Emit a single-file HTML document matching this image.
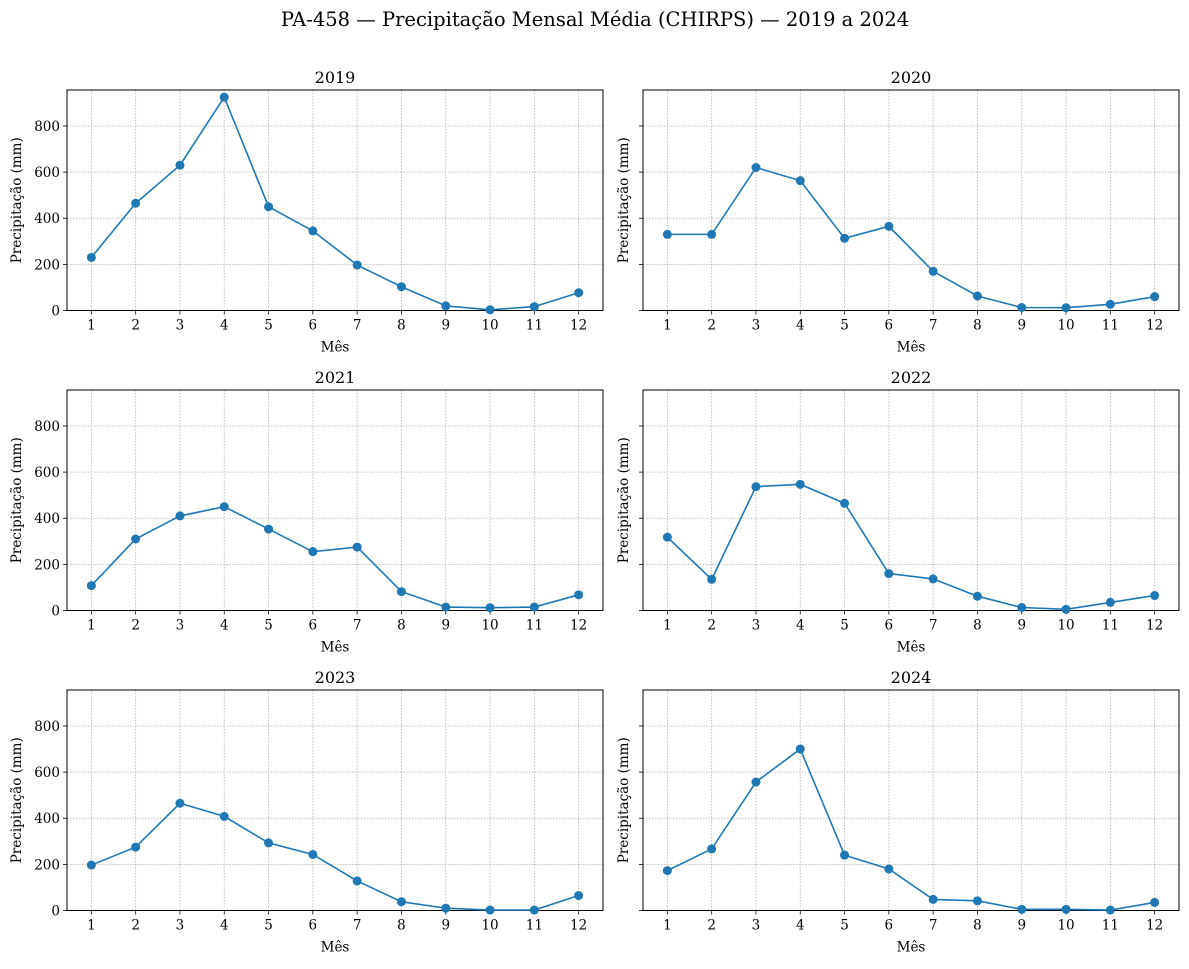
<!DOCTYPE html>
<html><head><meta charset="utf-8"><style>
body{margin:0;background:#fff;}
svg text{font-family:"DejaVu Serif","Liberation Serif",serif;fill:#000;}
</style></head><body>
<svg id="fig" width="1189" height="964" xmlns="http://www.w3.org/2000/svg">
<text x="595" y="26" text-anchor="middle" font-size="19.5">PA-458 — Precipitação Mensal Média (CHIRPS) — 2019 a 2024</text>
</svg>
<script>
const years = ["2019","2020","2021","2022","2023","2024"];
const months = [1,2,3,4,5,6,7,8,9,10,11,12];
const v2019 = [230,465,630,925,450,345,197,103,20,3,17,77];
const v2020 = [330,330,620,563,313,365,170,63,13,12,27,60];
const v2021 = [108,310,410,450,353,255,275,82,15,12,15,68];
const v2022 = [318,135,537,547,465,160,137,62,13,5,35,65];
const v2023 = [197,275,465,408,293,243,128,38,10,2,2,65];
const v2024 = [173,267,557,700,240,180,48,42,5,5,2,35];
const yTicks = [0,200,400,600,800];
const series = [v2019,v2020,v2021,v2022,v2023,v2024];
const NS="http://www.w3.org/2000/svg";
const svg=document.getElementById('fig');
function mk(tag,attrs,parent){const e=document.createElementNS(NS,tag);for(const k in attrs)e.setAttribute(k,attrs[k]);(parent||svg).appendChild(e);return e;}
const W=536,H=220.5,lefts=[67,643],tops=[90,390,690];
const XMIN=0.45,XMAX=12.55,YMIN=0,YMAX=956;
series.forEach((vals,i)=>{
  const L=lefts[i%2],T=tops[Math.floor(i/2)];
  const sx=m=>L+(m-XMIN)/(XMAX-XMIN)*W;
  const sy=v=>T+H-(v-YMIN)/(YMAX-YMIN)*H;
  const g=mk('g',{});
  
  
  months.forEach(m=>{const l=mk('line',{x1:sx(m),x2:sx(m),y1:T,y2:T+H,stroke:'#b0b0b0','stroke-width':0.8,'stroke-dasharray':'1.5,1.5'},g);
    
    mk('line',{x1:sx(m),x2:sx(m),y1:T+H,y2:T+H+4,stroke:'#000','stroke-width':0.8},g);
    const tx=mk('text',{x:sx(m),y:T+H+19,'text-anchor':'middle','font-size':13.5},g);tx.textContent=m;
    });
  yTicks.forEach(v=>{const l=mk('line',{x1:L,x2:L+W,y1:sy(v),y2:sy(v),stroke:'#b0b0b0','stroke-width':0.8,'stroke-dasharray':'1.5,1.5'},g);
    
    mk('line',{x1:L-4,x2:L,y1:sy(v),y2:sy(v),stroke:'#000','stroke-width':0.8},g);
    if(i%2===0){const tx=mk('text',{x:L-7,y:sy(v)+5,'text-anchor':'end','font-size':13.5},g);tx.textContent=v;
      }});
  const r=mk('rect',{x:L,y:T,width:W,height:H,fill:'none',stroke:'#000','stroke-width':1},g);
  
  const pts=vals.map((v,j)=>sx(months[j])+','+sy(v)).join(' ');
  const pl=mk('polyline',{points:pts,fill:'none',stroke:'#1f77b4','stroke-width':1.6},g);
  
  vals.forEach((v,j)=>{const c=mk('circle',{cx:sx(months[j]),cy:sy(v),r:4.5,fill:'#1f77b4'},g);
    });
  const tt=mk('text',{x:L+W/2,y:T-7,'text-anchor':'middle','font-size':16},g);tt.textContent=years[i];
  
  const xl=mk('text',{x:L+W/2,y:T+H+41,'text-anchor':'middle','font-size':13.5},g);xl.textContent='Mês';
  
  const yx=L-(i%2===0?46:15),yy=T+H/2;
  const yl=mk('text',{x:yx,y:yy,'text-anchor':'middle','font-size':13.5,transform:`rotate(-90 ${yx} ${yy})`},g);yl.textContent='Precipitação (mm)';
  
});
</script>
</body></html>
